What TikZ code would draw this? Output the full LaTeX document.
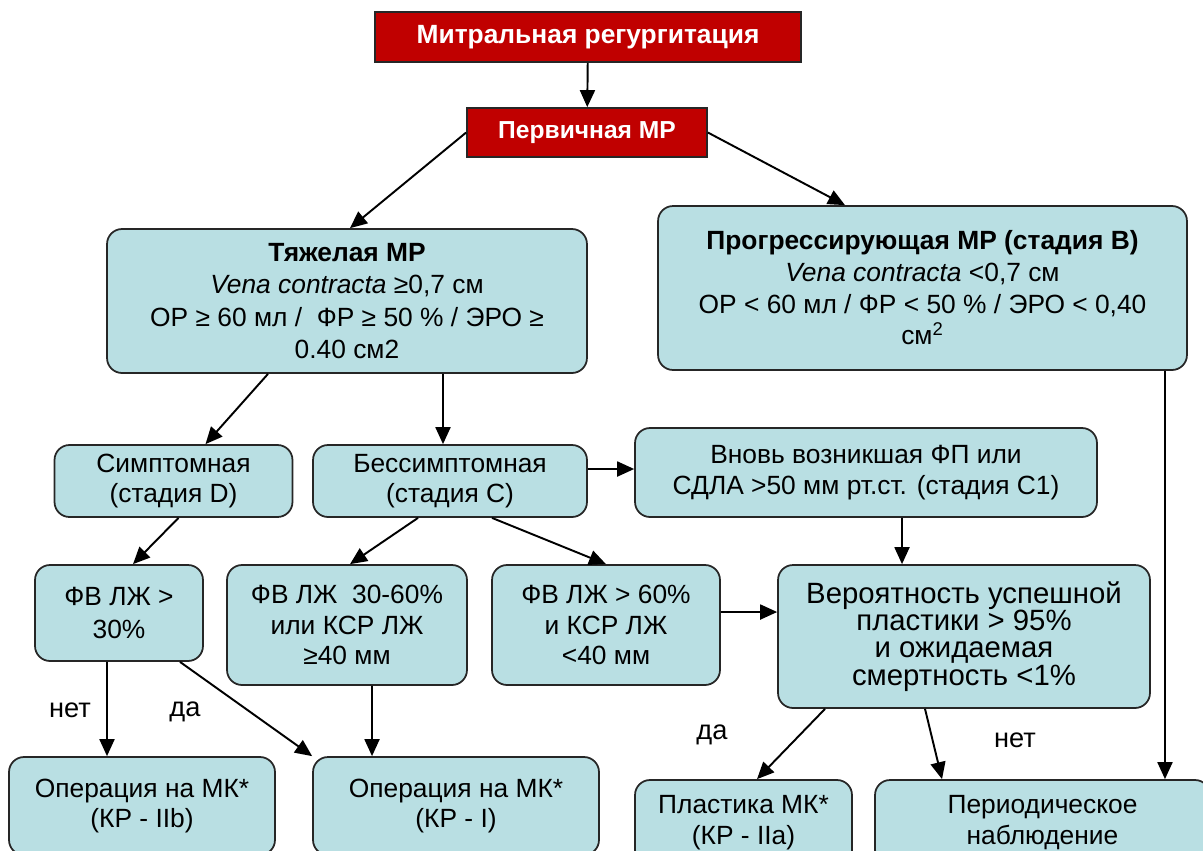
\documentclass[tikz,border=0pt]{standalone}
\usepackage{fontspec}
\setmainfont{Liberation Sans}
\usepackage{xcolor}
\usepackage{tikz}
\usetikzlibrary{shapes,arrows.meta,positioning}
\definecolor{mrred}{RGB}{192,0,0}
\definecolor{mrblue}{RGB}{185,223,227}
\tikzset{
  redbox/.style={rectangle, draw=black!85, line width=1pt, fill=mrred, text=white, align=center, font=\fontsize{15}{17}\selectfont\bfseries},
  bluebox/.style={rectangle, rounded corners=0.3cm, draw=black!85, line width=1pt, fill=mrblue, align=center, inner sep=2pt, font=\fontsize{15}{18.5}\selectfont},
  arr/.style={-{Triangle[length=0.34cm, width=0.3cm]}, line width=1.1pt},
  lbl/.style={font=\fontsize{15.5}{17}\selectfont}
}

\begin{document}
\begin{tikzpicture}[x=0.02cm, y=-0.02cm]
\useasboundingbox (0,0) rectangle (1203,850);
% red header
\node[redbox, minimum width=8.52cm, minimum height=1cm] (title) at (588,37) {Митральная регургитация};
\node[redbox, minimum width=4.8cm, minimum height=0.98cm, font=\fontsize{14}{16}\selectfont\bfseries] (perv) at (587,132.5) {Первичная МР};
% second row
\node[bluebox, minimum width=9.6cm, minimum height=2.88cm] (tyazh) at (347,301) {\textbf{Тяжелая МР}\\ \textit{Vena contracta} ≥0,7 см\\ ОР ≥ 60 мл /~ ФР ≥ 50 \% / ЭРО ≥\\ 0.40 см2};
\node[bluebox, minimum width=10.58cm, minimum height=3.28cm, font=\fontsize{15}{18}\selectfont] (progr) at (922.5,288) {\textbf{Прогрессирующая МР (стадия В)}\\ \textit{Vena contracta} <0,7 см\\ ОР < 60 мл / ФР < 50 \% / ЭРО < 0,40\\ см\textsuperscript{2}};
% third row
\node[bluebox, minimum width=4.76cm, minimum height=1.44cm, font=\fontsize{15}{17}\selectfont] (simpt) at (173.5,481) {Симптомная\\ (стадия D)};
\node[bluebox, minimum width=5.48cm, minimum height=1.44cm, font=\fontsize{15}{17}\selectfont] (bessimpt) at (450,481) {Бессимптомная\\ (стадия C)};
\node[bluebox, minimum width=9.24cm, minimum height=1.78cm, font=\fontsize{15}{18}\selectfont] (vnov) at (866,472.5) {Вновь возникшая ФП или\\ СДЛА >50 мм рт.ст. (стадия С1)};
% fourth row
\node[bluebox, minimum width=3.36cm, minimum height=1.92cm, font=\fontsize{15}{19}\selectfont] (fv30) at (119,613) {ФВ ЛЖ >\\ 30\%};
\node[bluebox, minimum width=4.8cm, minimum height=2.4cm, font=\fontsize{15}{17.5}\selectfont] (fv3060) at (347,625) {ФВ ЛЖ~ 30-60\%\\ или КСР ЛЖ\\ ≥40 мм};
\node[bluebox, minimum width=4.56cm, minimum height=2.4cm, font=\fontsize{15}{17.5}\selectfont] (fv60) at (606,625) {ФВ ЛЖ > 60\%\\ и КСР ЛЖ\\ <40 мм};
\node[bluebox, minimum width=7.44cm, minimum height=2.86cm, font=\fontsize{16.7}{15.5}\selectfont] (veroyat) at (964,636.5) {Вероятность успешной\\ пластики > 95\%\\ и ожидаемая\\ смертность <1\%};
% bottom row
\node[bluebox, minimum width=5.32cm, minimum height=1.96cm, font=\fontsize{15}{17}\selectfont] (oper2b) at (142,806) {Операция на МК*\\ (КР - IIb)};
\node[bluebox, minimum width=5.72cm, minimum height=1.96cm, font=\fontsize{15}{17}\selectfont] (oper1) at (456,806) {Операция на МК*\\ (КР - I)};
\node[bluebox, minimum width=4.34cm, minimum height=1.7cm, font=\fontsize{15}{17.5}\selectfont] (plast) at (743.5,822.5) {Пластика МК*\\ (КР - IIa)};
\node[bluebox, minimum width=6.7cm, minimum height=1.7cm, font=\fontsize{15}{17.5}\selectfont] (period) at (1042.5,822.5) {Периодическое\\ наблюдение};
% labels
\node[lbl] (net1) at (70,710) {нет};
\node[lbl] (da1) at (185,712) {да};
\node[lbl] (da2) at (712,735) {да};
\node[lbl] (net2) at (1015,740) {нет};
% arrows
\draw[arr] (title) -- (perv);
\draw[arr] (perv.west) -- ([xshift=0.06cm]tyazh.north);
\draw[arr] (perv.east) -- ([xshift=-1.55cm]progr.north);
\draw[arr] ([xshift=-1.58cm]tyazh.south) -- ([xshift=0.64cm]simpt.north);
\draw[arr] ([xshift=1.92cm]tyazh.south) -- ([xshift=-0.14cm]bessimpt.north);
\draw[arr] ([yshift=0.24cm]bessimpt.east) -- ([yshift=0.07cm]vnov.west);
\draw[arr] ([xshift=0.1cm]simpt.south) -- ([xshift=0.28cm]fv30.north);
\draw[arr] ([xshift=-0.64cm]bessimpt.south) -- ([xshift=0.06cm]fv3060.north);
\draw[arr] ([xshift=0.84cm]bessimpt.south) -- (fv60.north);
\draw[arr] ([xshift=0.72cm]vnov.south) -- ([xshift=-1.24cm]veroyat.north);
\draw[arr] ([yshift=0.26cm]fv60.east) -- ([yshift=0.49cm]veroyat.west);
\draw[arr] ([xshift=-0.24cm]fv30.south) -- ([xshift=-0.7cm]oper2b.north);
\draw[arr] ([xshift=1.22cm]fv30.south) -- (oper1.north west);
\draw[arr] ([xshift=0.5cm]fv3060.south) -- ([xshift=-1.68cm]oper1.north);
\draw[arr] ([xshift=-2.78cm]veroyat.south) -- ([xshift=0.27cm]plast.north);
\draw[arr] ([xshift=-0.78cm]veroyat.south) -- ([xshift=-2.01cm]period.north);
\draw[arr] ([xshift=4.85cm]progr.south) -- ([xshift=2.45cm]period.north);
\end{tikzpicture}
\end{document}
